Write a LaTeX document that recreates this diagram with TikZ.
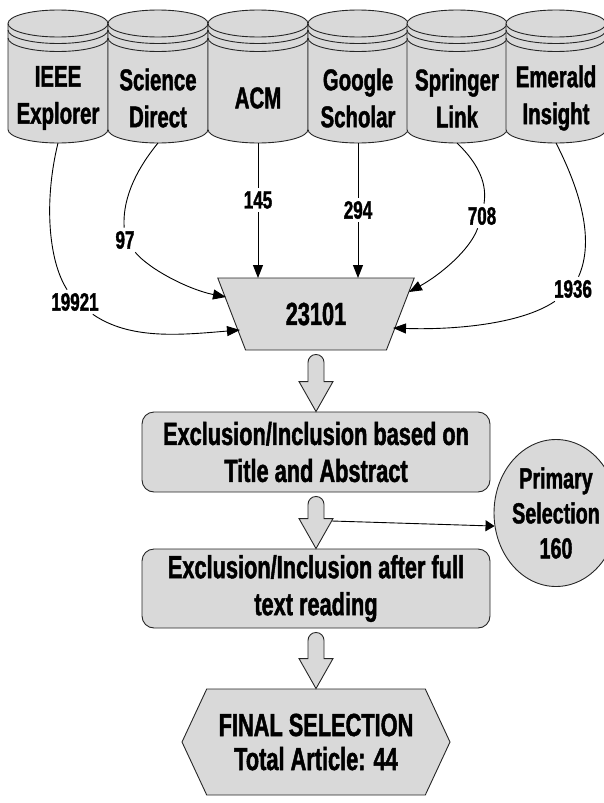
\documentclass[tikz,border=0pt]{standalone}
\usepackage{fontspec}
\setmainfont{Liberation Sans}[FakeStretch=0.68, BoldFeatures={FakeBold=1.4}]
\usetikzlibrary{shapes.geometric,shapes.symbols,arrows.meta,calc}
\definecolor{dbgray}{HTML}{D9D9D9}

% hollow block arrow from the bottom of one node to the top of the next
\newcommand{\fatarrow}[2]{%
  \draw[fatarr] let \p1 = (#1.south), \p2 = (#2.north) in
    (\x1-8pt, \y1-12pt) arc[start angle=180, end angle=0, radius=8pt]
    -- (\x1+8pt, \y2+30pt) -- (\x1+17pt, \y2+30pt) -- (\x1, \y2)
    -- (\x1-17pt, \y2+30pt) -- (\x1-8pt, \y2+30pt) -- cycle;}

\begin{document}
\begin{tikzpicture}[x=1pt, y=-1pt, line width=0.9pt,
    dbase/.style={draw=black!85, fill=dbgray},
    dbtext/.style={font=\bfseries\fontsize{30}{37}\selectfont, align=center},
    count/.style={font=\bfseries\fontsize{25}{28}\selectfont, inner sep=3pt},
    flow/.style={-{Triangle[length=13pt, width=10pt]}},
    fatarr/.style={draw=black!85, fill=dbgray},
    step box/.style={rectangle, rounded corners=12pt, draw=black!85, fill=dbgray,
      minimum width=348pt, align=center, font=\bfseries\fontsize{32}{37}\selectfont}]
    \useasboundingbox (0, 0) rectangle (604, 803);

    % databases
    \foreach \cx/\nm/\txt in {58/ieee/{IEEE\\Explorer}, 158/sd/{Science\\Direct},
        258/acm/ACM, 358/gs/{Google\\Scholar}, 457/sl/{Springer\\Link},
        556/ei/{Emerald\\Insight}} {
      \filldraw[dbase] (\cx-50, 23.5) -- (\cx-50, 129.5)
        arc[start angle=180, end angle=0, x radius=50, y radius=13.5]
        -- (\cx+50, 23.5)
        arc[start angle=0, end angle=-180, x radius=50, y radius=13.5] -- cycle;
      \draw[draw=black!85] (\cx-50, 23.5) arc[start angle=180, end angle=0, x radius=50, y radius=13.5];
      \draw[draw=black!85] (\cx-50, 30) arc[start angle=180, end angle=0, x radius=50, y radius=13.5];
      \draw[draw=black!85] (\cx-50, 38) arc[start angle=180, end angle=0, x radius=50, y radius=13.5];
      \draw (\cx, 98) node [dbtext] (\nm) {\txt};
      \coordinate (\nm-b) at (\cx, 143);
    }

    \draw (316, 314) node [trapezium, shape border rotate=180, trapezium angle=65.7,
      trapezium stretches=true, minimum width=198pt, minimum height=72pt,
      draw=black!85, fill=dbgray, font=\bfseries\fontsize{32}{37}\selectfont] (pool) {23101};

    % counts per database
    \draw (75, 302) node [count] (n19921) {19921};
    \draw (125, 240) node [count] (n97) {97};
    \draw (258, 200) node [count] (n145) {145};
    \draw (358, 210) node [count] (n294) {294};
    \draw (482, 216) node [count] (n708) {708};
    \draw (573, 289) node [count] (n1936) {1936};

    \coordinate (t19921) at (240, 330);
    \coordinate (t97) at (226, 297);
    \coordinate (t145) at (258, 278);
    \coordinate (t294) at (358, 278);
    \coordinate (t708) at (409, 292);
    \coordinate (t1936) at (393, 328);

    \draw (ieee-b) .. controls (44, 200) and (48, 260) .. (n19921);
    \draw[flow] (n19921) .. controls (130, 340) and (180, 335) .. (t19921);
    \draw (sd-b) .. controls (140, 165) and (122, 195) .. (n97);
    \draw[flow] (n97) .. controls (150, 270) and (190, 290) .. (t97);
    \path (acm-b) edge (n145);
    \path (n145) edge[flow] (t145);
    \path (gs-b) edge (n294);
    \path (n294) edge[flow] (t294);
    \draw (sl-b) .. controls (480, 165) and (487, 185) .. (n708);
    \draw[flow] (n708) .. controls (470, 250) and (440, 275) .. (t708);
    \draw (ei-b) .. controls (580, 190) and (595, 240) .. (n1936);
    \draw[flow] (n1936) .. controls (520, 325) and (450, 330) .. (t1936);

    % screening steps
    \draw (316, 452) node [step box, minimum height=80pt] (sel1)
      {Exclusion/Inclusion based on\\Title and Abstract};
    \draw (316, 588.5) node [step box, minimum height=79pt] (sel2)
      {Exclusion/Inclusion after full\\text reading};
    \draw (556, 513) node [ellipse, draw=black!85, fill=dbgray, inner sep=0pt,
      minimum width=95pt, minimum height=147pt, align=center,
      font=\bfseries\fontsize{29}{35}\selectfont] (prim) {Primary\\Selection\\160};
    \draw (316, 742) node [signal, signal to=west and east, signal pointer angle=130,
      draw=black!85, fill=dbgray, minimum width=268pt, minimum height=106pt,
      align=center, font=\bfseries\fontsize{32}{34}\selectfont] (final)
      {FINAL SELECTION\\Total Article: 44};

    \fatarrow{pool}{sel1}
    \fatarrow{sel1}{sel2}
    \fatarrow{sel2}{final}

    \coordinate (split) at (332, 521);
    \path (split) edge[-{Triangle[length=9pt, width=11pt]}] (prim.192);
\end{tikzpicture}
\end{document}
